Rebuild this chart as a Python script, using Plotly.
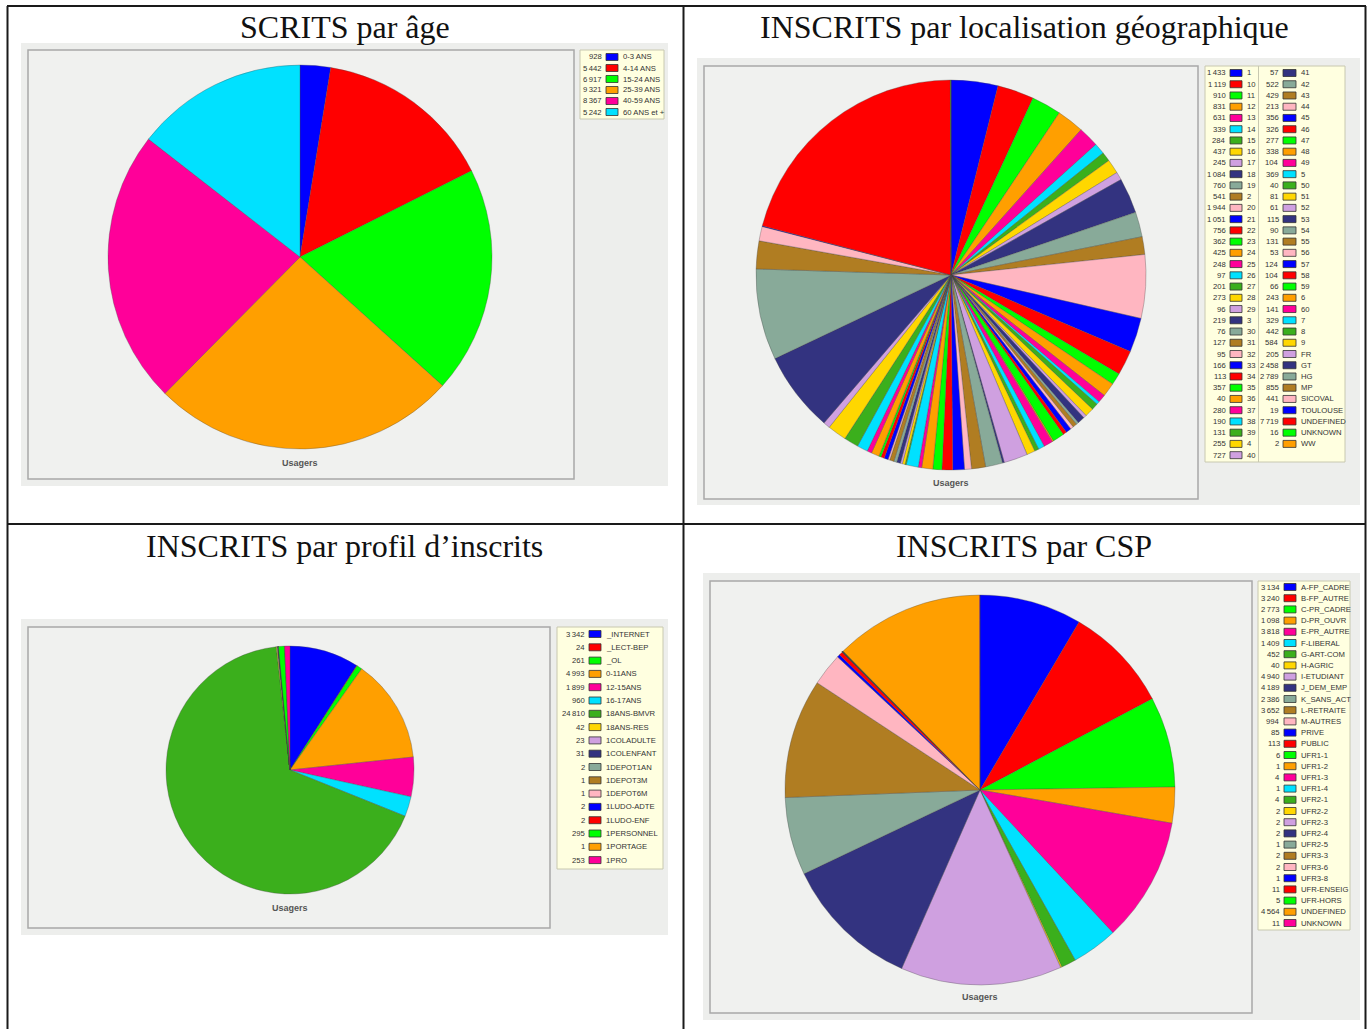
import plotly.graph_objects as go

W, H = 1371, 1029

PALETTE = ["#0000FF", "#FF0000", "#00FF00", "#FF9F00", "#FF0099", "#00E1FF",
           "#3BAF1C", "#FFD700", "#CFA0E0", "#333380", "#88AA99", "#B07D22",
           "#FFB6C1"]

# --- data -------------------------------------------------------------------
age_labels = ["0-3 ANS", "4-14 ANS", "15-24 ANS", "25-39 ANS", "40-59 ANS", "60 ANS et +"]
age_values = [928, 5442, 6917, 9321, 8367, 5242]

geo_labels = ["1", "10", "11", "12", "13", "14", "15", "16", "17", "18", "19", "2",
              "20", "21", "22", "23", "24", "25", "26", "27", "28", "29", "3", "30",
              "31", "32", "33", "34", "35", "36", "37", "38", "39", "4", "40",
              "41", "42", "43", "44", "45", "46", "47", "48", "49", "5", "50", "51",
              "52", "53", "54", "55", "56", "57", "58", "59", "6", "60", "7", "8",
              "9", "FR", "GT", "HG", "MP", "SICOVAL", "TOULOUSE", "UNDEFINED",
              "UNKNOWN", "WW"]
geo_values = [1433, 1119, 910, 831, 631, 339, 284, 437, 245, 1084, 760, 541,
              1944, 1051, 756, 362, 425, 248, 97, 201, 273, 96, 219, 76,
              127, 95, 166, 113, 357, 40, 280, 190, 131, 255, 727,
              57, 522, 429, 213, 356, 326, 277, 338, 104, 369, 40, 81,
              61, 115, 90, 131, 53, 124, 104, 66, 243, 141, 329, 442,
              584, 205, 2458, 2789, 855, 441, 19, 7719,
              16, 2]

profil_labels = ["_INTERNET", "_LECT-BEP", "_OL", "0-11ANS", "12-15ANS", "16-17ANS",
                 "18ANS-BMVR", "18ANS-RES", "1COLADULTE", "1COLENFANT", "1DEPOT1AN",
                 "1DEPOT3M", "1DEPOT6M", "1LUDO-ADTE", "1LUDO-ENF", "1PERSONNEL",
                 "1PORTAGE", "1PRO"]
profil_values = [3342, 24, 261, 4993, 1899, 960, 24810, 42, 23, 31, 2, 1, 1, 2, 2,
                 295, 1, 253]

csp_labels = ["A-FP_CADRE", "B-FP_AUTRE", "C-PR_CADRE", "D-PR_OUVR", "E-PR_AUTRE",
              "F-LIBERAL", "G-ART-COM", "H-AGRIC", "I-ETUDIANT", "J_DEM_EMP",
              "K_SANS_ACT", "L-RETRAITE", "M-AUTRES", "PRIVE", "PUBLIC", "UFR1-1",
              "UFR1-2", "UFR1-3", "UFR1-4", "UFR2-1", "UFR2-2", "UFR2-3", "UFR2-4",
              "UFR2-5", "UFR3-3", "UFR3-6", "UFR3-8", "UFR-ENSEIG", "UFR-HORS",
              "UNDEFINED", "UNKNOWN"]
csp_values = [3134, 3240, 2773, 1098, 3818, 1409, 452, 40, 4940, 4189, 2386, 3652,
              994, 85, 113, 6, 1, 4, 1, 4, 2, 2, 2, 1, 2, 2, 1, 11, 5, 4564, 11]

titles = ["SCRITS par âge", "INSCRITS par localisation géographique",
          "INSCRITS par profil d\u2019inscrits", "INSCRITS par CSP"]


def X(px):
    return px / W


def Y(py):
    return 1 - py / H


def fmt(v):
    return f"{v:,}".replace(",", "\u202f")


fig = go.Figure()
shapes = []
annotations = []


def rect(x0, y0, x1, y1, fill, line="rgba(0,0,0,0)", lw=0):
    shapes.append(dict(type="rect", xref="paper", yref="paper",
                       x0=X(x0), x1=X(x1), y0=Y(y1), y1=Y(y0),
                       fillcolor=fill, line=dict(color=line, width=lw), layer="below"))


def text(x, y, s, size=7.7, anchor="left", color="#333", family="Liberation Sans, Arial", bold=False):
    if bold:
        s = f"<b>{s}</b>"
    annotations.append(dict(x=X(x), y=Y(y), xref="paper", yref="paper", text=s,
                            showarrow=False, xanchor=anchor, yanchor="middle",
                            font=dict(size=size, color=color, family=family)))


def panel(outer, inner, cx, cy, r, labels, values, usagers_y):
    rect(*outer, "#EDEEEC")
    rect(*inner, "#F0F1EF", "#A8A8A8", 1.5)
    colors = [PALETTE[i % len(PALETTE)] for i in range(len(values))]
    fig.add_trace(go.Pie(
        labels=labels, values=values, sort=False, direction="clockwise",
        rotation=0, textinfo="none", showlegend=False,
        marker=dict(colors=colors, line=dict(color="rgba(70,70,70,0.55)", width=0.6)),
        domain=dict(x=[X(cx - r), X(cx + r)], y=[Y(cy + r), Y(cy - r)]),
    ))
    text(cx, usagers_y, "Usagers", size=9, anchor="center", color="#555", bold=True)
    return colors


def legend_col(labels, values, colors, x_val, sw0, sw1, y0, step):
    for i, (lab, val, col) in enumerate(zip(labels, values, colors)):
        yy = y0 + i * step
        text(x_val, yy, fmt(val), anchor="right")
        shapes.append(dict(type="rect", xref="paper", yref="paper",
                           x0=X(sw0), x1=X(sw1), y0=Y(yy + 3.5), y1=Y(yy - 3.5),
                           fillcolor=col, line=dict(color="#333", width=0.8)))
        text(sw1 + 3, yy, lab, anchor="left")


# table grid
for x0, y0, x1, y1 in [(7, 6, 1366, 6), (7, 524, 1366, 524), (7.5, 6, 7.5, 1029),
                       (683.5, 6, 683.5, 1029), (1365.5, 6, 1365.5, 1029)]:
    shapes.append(dict(type="line", xref="paper", yref="paper", x0=X(x0), x1=X(x1),
                       y0=Y(y0), y1=Y(y1), line=dict(color="#1a1a1a", width=2)))

# titles
for (tx, ty), t in zip([(345, 27), (1024, 27), (345, 546), (1024, 546)], titles):
    text(tx, ty, t, size=32, anchor="center", color="#111",
         family="Liberation Serif, Times New Roman, serif")

# top-left : age
c = panel((21, 43, 668, 486), (28, 50, 574, 479), 300, 257, 192, age_labels, age_values, 463)
rect(580, 50, 664, 119, "#FFFFE0", "#C8C8B0", 1)
legend_col(age_labels, age_values, c, 604, 606, 618, 57, 11)

# top-right : localisation
c = panel((697, 58, 1360, 505), (704, 66, 1198, 499), 951, 275, 195, geo_labels, geo_values, 483)
rect(1205, 66, 1345, 462, "#FFFFE0", "#C8C8B0", 1)
shapes.append(dict(type="line", xref="paper", yref="paper", x0=X(1258.5), x1=X(1258.5),
                   y0=Y(462), y1=Y(66), line=dict(color="#C8C8B0", width=1)))
legend_col(geo_labels[:35], geo_values[:35], c[:35], 1228, 1230, 1242, 73, 11.24)
legend_col(geo_labels[35:], geo_values[35:], c[35:], 1281, 1283, 1296, 73, 11.24)

# bottom-left : profil
c = panel((21, 619, 668, 935), (28, 627, 550, 928), 290, 770, 124, profil_labels, profil_values, 908)
rect(557, 627, 663, 869, "#FFFFE0", "#C8C8B0", 1)
legend_col(profil_labels, profil_values, c, 587, 589, 601, 634, 13.3)

# bottom-right : CSP
c = panel((703, 573, 1360, 1020), (710, 581, 1252, 1013), 980, 790, 195, csp_labels, csp_values, 997)
rect(1258, 581, 1350, 930, "#FFFFE0", "#C8C8B0", 1)
legend_col(csp_labels, csp_values, c, 1282, 1284, 1296, 587, 11.2)

fig.update_layout(
    width=W, height=H, margin=dict(l=0, r=0, t=0, b=0),
    paper_bgcolor="white", plot_bgcolor="white",
    shapes=shapes, annotations=annotations,
)

# the page's default body margin would shift the figure by 8px
fig.write_html("out.html", config={"displayModeBar": False},
               post_script="document.body.style.margin='0';")
